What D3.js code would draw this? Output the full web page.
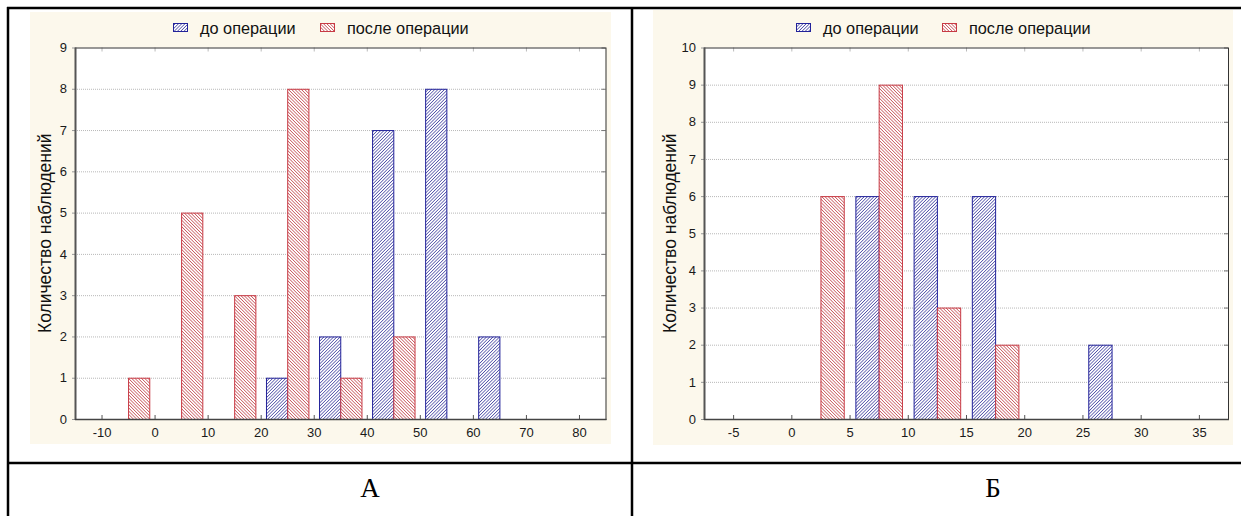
<!DOCTYPE html>
<html>
<head>
<meta charset="utf-8">
<script src="https://cdn.jsdelivr.net/npm/d3@7/dist/d3.min.js"></script>
<style>
  html, body { margin: 0; padding: 0; background: #fff; }
  svg { display: block; }
  .sans { font-family: "Liberation Sans", Arial, sans-serif; }
  .serif { font-family: "Liberation Serif", "Times New Roman", serif; }
</style>
</head>
<body>
<svg id="chart" width="1241" height="516"></svg>
<script>
// ---------- data ----------
const seriesNames = ["до операции", "после операции"];
const yTitle = "Количество наблюдений";
const panelLabels = ["А", "Б"];

// Chart A (bins of width 10, start values)
const binsA = [-10, 0, 10, 20, 30, 40, 50, 60, 70];
const beforeA = [0, 0, 0, 1, 2, 7, 8, 2, 0];
const afterA  = [1, 5, 3, 8, 1, 2, 0, 0, 0];
const xTicksA = [-10, 0, 10, 20, 30, 40, 50, 60, 70, 80];
const yTicksA = [0, 1, 2, 3, 4, 5, 6, 7, 8, 9];

// Chart B (bins of width 5, start values)
const binsB = [0, 5, 10, 15, 20, 25];
const beforeB = [0, 6, 6, 6, 0, 2];
const afterB  = [6, 9, 3, 2, 0, 0];
const xTicksB = [-5, 0, 5, 10, 15, 20, 25, 30, 35];
const yTicksB = [0, 1, 2, 3, 4, 5, 6, 7, 8, 9, 10];

// ---------- drawing ----------
const svg = d3.select("#chart");
const defs = svg.append("defs");

function hatch(id, color, dir) {
  const s = 2.3;
  const p = defs.append("pattern").attr("id", id)
    .attr("patternUnits", "userSpaceOnUse")
    .attr("width", s).attr("height", s)
    .attr("patternTransform", `rotate(${dir})`);
  p.append("rect").attr("width", s).attr("height", s).attr("fill", "#fff");
  p.append("line").attr("x1", 0).attr("y1", 0).attr("x2", 0).attr("y2", s)
    .attr("stroke", color).attr("stroke-width", 1.3);
}
hatch("hBlue", "#34349a", 45);
hatch("hRed", "#be3c42", -45);

const colors = {
  before: { fill: "url(#hBlue)", stroke: "#22229a" },
  after:  { fill: "url(#hRed)", stroke: "#c83a44" }
};

function drawChart(cfg) {
  const g = svg.append("g").attr("class", "sans");
  // cream panel
  g.append("rect").attr("x", cfg.panel[0]).attr("y", cfg.panel[1])
    .attr("width", cfg.panel[2]).attr("height", cfg.panel[3])
    .attr("fill", "#fcf8ec");

  const x = d3.scaleLinear().domain(cfg.xDomain).range([cfg.plot[0], cfg.plot[1]]);
  const y = d3.scaleLinear().domain(cfg.yDomain).range([cfg.plot[3], cfg.plot[2]]);

  // plot background
  g.append("rect").attr("x", cfg.plot[0]).attr("y", cfg.plot[2])
    .attr("width", cfg.plot[1] - cfg.plot[0]).attr("height", cfg.plot[3] - cfg.plot[2])
    .attr("fill", "#fff");

  // grid lines
  g.append("g").selectAll("line").data(cfg.yTicks.filter(d => d > cfg.yDomain[0] && d < cfg.yDomain[1]))
    .join("line")
    .attr("x1", cfg.plot[0]).attr("x2", cfg.plot[1])
    .attr("y1", d => y(d) + 0.5).attr("y2", d => y(d) + 0.5)
    .attr("stroke", "#b8b8b8").attr("stroke-width", 1).attr("stroke-dasharray", "1,1");

  // bars
  const w = cfg.binWidth;
  const bars = [];
  cfg.bins.forEach((b, i) => {
    if (cfg.before[i] > 0) bars.push({ x0: b + 0.1 * w, x1: b + 0.5 * w, v: cfg.before[i], s: "before" });
    if (cfg.after[i] > 0) bars.push({ x0: b + 0.5 * w, x1: b + 0.9 * w, v: cfg.after[i], s: "after" });
  });
  g.append("g").selectAll("rect").data(bars).join("rect")
    .attr("x", d => x(d.x0) + 0.5)
    .attr("width", d => x(d.x1) - x(d.x0))
    .attr("y", d => y(d.v) + 0.5)
    .attr("height", d => y(0) - y(d.v))
    .attr("fill", d => colors[d.s].fill)
    .attr("stroke", d => colors[d.s].stroke)
    .attr("stroke-width", 1);

  const fmt = d => String(d);
  // axes
  const xAxis = d3.axisBottom(x).tickValues(cfg.xTicks).tickSize(-4).tickPadding(9).tickFormat(fmt);
  const gx = g.append("g").attr("transform", `translate(0,${cfg.plot[3]})`).call(xAxis);
  gx.select(".domain").remove();
  gx.attr("font-family", null);
  gx.selectAll(".tick line").attr("stroke", "#555");
  gx.selectAll("text").attr("font-size", 13).attr("fill", "#1a1a1a");

  const xTop = d3.axisTop(x).tickValues(cfg.xTicks).tickSize(-4).tickFormat("");
  const gxt = g.append("g").attr("transform", `translate(0,${cfg.plot[2]})`).call(xTop);
  gxt.select(".domain").remove();
  gxt.selectAll(".tick line").attr("stroke", "#bbb");

  const yAxis = d3.axisLeft(y).tickValues(cfg.yTicks).tickSize(3).tickPadding(5).tickFormat(fmt);
  const gy = g.append("g").attr("transform", `translate(${cfg.plot[0]},0)`).call(yAxis);
  gy.select(".domain").remove();
  gy.attr("font-family", null);
  gy.selectAll(".tick line").attr("stroke", "#999");
  gy.selectAll("text").attr("font-size", 13).attr("fill", "#1a1a1a");

  const yRight = d3.axisRight(y).tickValues(cfg.yTicks).tickSize(-4).tickFormat("");
  const gyr = g.append("g").attr("transform", `translate(${cfg.plot[1]},0)`).call(yRight);
  gyr.select(".domain").remove();
  gyr.selectAll(".tick line").attr("stroke", "#777");

  // frame
  g.append("rect").attr("x", cfg.plot[0] + 0.5).attr("y", cfg.plot[2] + 0.5)
    .attr("width", cfg.plot[1] - cfg.plot[0]).attr("height", cfg.plot[3] - cfg.plot[2])
    .attr("fill", "none").attr("stroke", "#333").attr("stroke-width", 1);
  g.append("line").attr("x1", cfg.plot[0] + 0.5).attr("x2", cfg.plot[0] + 0.5)
    .attr("y1", cfg.plot[2]).attr("y2", cfg.plot[3] + 1)
    .attr("stroke", "#555").attr("stroke-width", 2);
  g.append("line").attr("x1", cfg.plot[0]).attr("x2", cfg.plot[1] + 1)
    .attr("y1", cfg.plot[3] + 0.5).attr("y2", cfg.plot[3] + 0.5)
    .attr("stroke", "#444").attr("stroke-width", 1.5);

  // y title
  g.append("text")
    .attr("transform", `translate(${cfg.yTitleX},${(cfg.plot[2] + cfg.plot[3]) / 2}) rotate(-90)`)
    .attr("text-anchor", "middle").attr("dominant-baseline", "central")
    .attr("font-size", 17.5).attr("fill", "#111").text(yTitle);

  // legend
  const keys = ["before", "after"];
  keys.forEach((k, i) => {
    const lx = cfg.legend[i];
    g.append("rect").attr("x", lx + 0.5).attr("y", 23.5).attr("width", 14).attr("height", 8)
      .attr("fill", colors[k].fill).attr("stroke", colors[k].stroke).attr("stroke-width", 1);
    g.append("text").attr("x", lx + 27).attr("y", 27.5).attr("dominant-baseline", "central")
      .attr("font-size", 16.3).attr("fill", "#111").text(seriesNames[i]);
  });
}

drawChart({
  panel: [30, 12, 581, 432],
  plot: [75, 605.5, 47.5, 419],
  xDomain: [-15, 85], yDomain: [0, 9],
  xTicks: xTicksA, yTicks: yTicksA,
  bins: binsA, binWidth: 10, before: beforeA, after: afterA,
  yTitleX: 45, legend: [173, 320]
});

drawChart({
  panel: [653, 10, 580, 435],
  plot: [704, 1228, 47.5, 419],
  xDomain: [-7.5, 37.5], yDomain: [0, 10],
  xTicks: xTicksB, yTicks: yTicksB,
  bins: binsB, binWidth: 5, before: beforeB, after: afterB,
  yTitleX: 670, legend: [796, 942]
});

// table borders
const tbl = svg.append("g").attr("stroke", "#000").attr("stroke-width", 2.5);
tbl.append("line").attr("x1", 7).attr("x2", 1241).attr("y1", 8).attr("y2", 8);
tbl.append("line").attr("x1", 8).attr("x2", 8).attr("y1", 7).attr("y2", 516);
tbl.append("line").attr("x1", 632).attr("x2", 632).attr("y1", 7).attr("y2", 516);
tbl.append("line").attr("x1", 7).attr("x2", 1241).attr("y1", 463).attr("y2", 463);

// panel labels
[[370, panelLabels[0]], [993, panelLabels[1]]].forEach(([lx, t]) => {
  svg.append("text").attr("class", "serif").attr("x", lx).attr("y", 497).attr("text-anchor", "middle")
    .attr("font-size", 27).attr("fill", "#000").text(t);
});
</script>
</body>
</html>
